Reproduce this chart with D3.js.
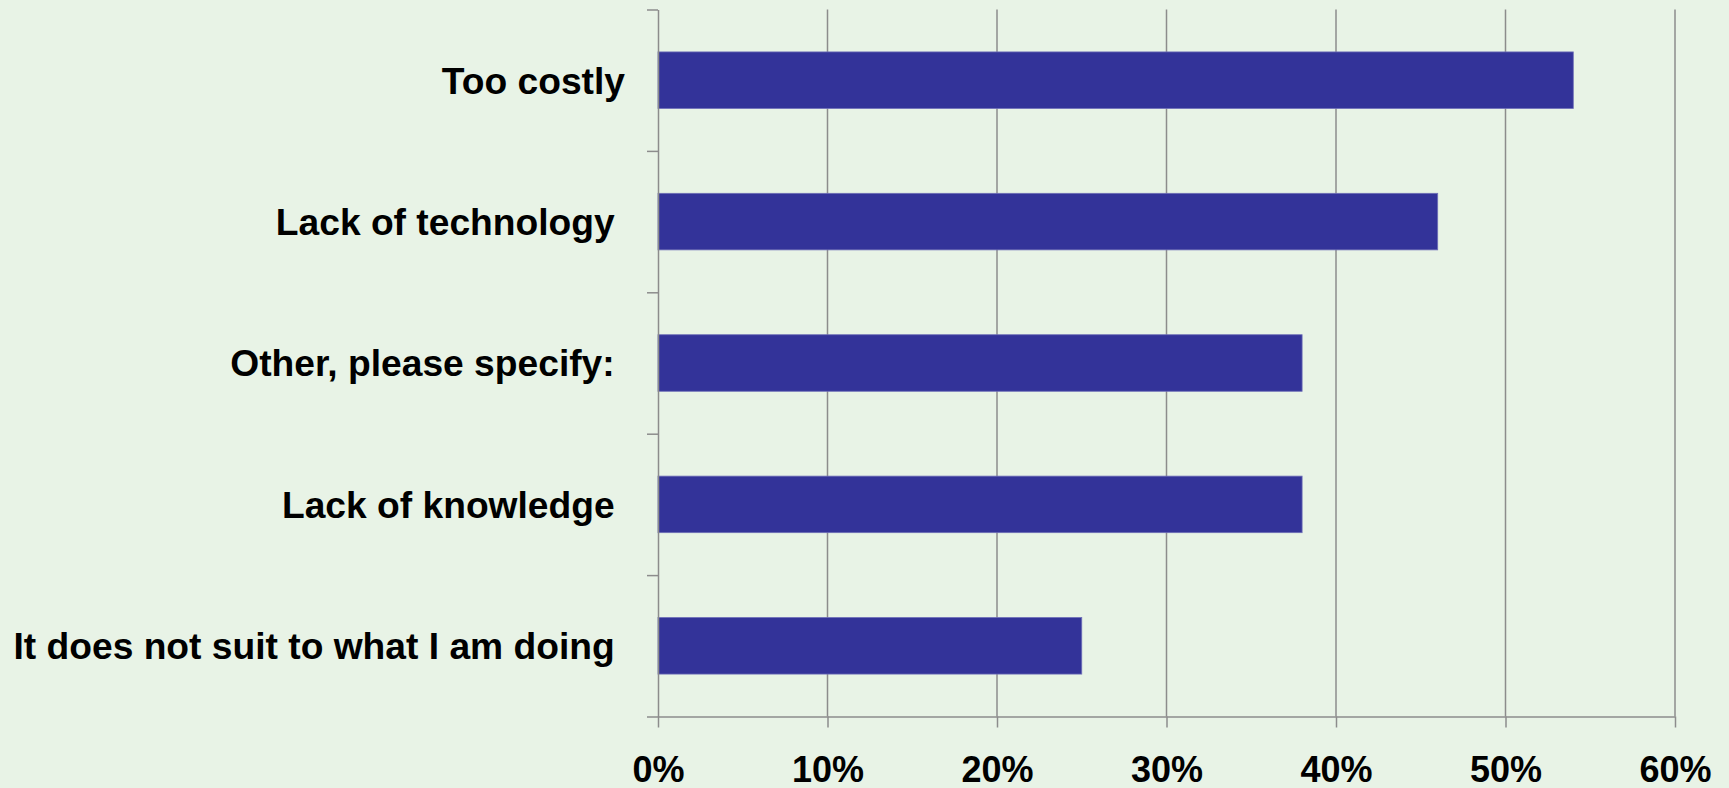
<!DOCTYPE html>
<html>
<head>
<meta charset="utf-8">
<script src="https://cdn.jsdelivr.net/npm/d3@7"></script>
<style>
    html, body { margin: 0; padding: 0; background: #e8f3e6; }
    svg { display: block; }
    .lbl text { white-space: pre; }
</style>
</head>
<body>
<div id="chart"></div>
<script>
(function(){
    // data (top to bottom)
    var categories = ['Too costly', 'Lack of technology ', 'Other, please specify: ', 'Lack of knowledge ', 'It does not suit to what I am doing '];
    var values     = [0.54, 0.46, 0.38, 0.38, 0.25];
    var xTicks     = [0, 0.1, 0.2, 0.3, 0.4, 0.5, 0.6];

    var WIDTH         = 1729,
        HEIGHT        = 788,
        MARGIN_LEFT   = 658,
        MARGIN_RIGHT  = 54,
        MARGIN_TOP    = 9.5,
        MARGIN_BOTTOM = 71.5,
        PLOT_W        = WIDTH - MARGIN_LEFT - MARGIN_RIGHT,
        PLOT_H        = HEIGHT - MARGIN_TOP - MARGIN_BOTTOM,
        FONT          = '"Liberation Sans", Arial, sans-serif',
        GRID_COLOR    = '#8c8c8c',
        BAR_COLOR     = '#333399';

    var svg = d3.select('#chart').append('svg')
        .attr('width', WIDTH)
        .attr('height', HEIGHT);

    svg.append('rect').attr('width', WIDTH).attr('height', HEIGHT).attr('fill', '#e8f3e6');

    var g = svg.append('g')
        .attr('transform', 'translate(' + MARGIN_LEFT + ',' + MARGIN_TOP + ')');

    var x = d3.scaleLinear().domain([0, 0.6]).range([0, PLOT_W]);
    var y = d3.scaleBand().domain(categories).range([0, PLOT_H])
        .paddingInner(0.6).paddingOuter(0.3);
    // band boundaries for the tick marks on the category axis
    var yEdge = d3.scaleLinear().domain([0, categories.length]).range([0, PLOT_H]);

    // vertical gridlines
    g.append('g').selectAll('line')
        .data(xTicks.slice(1))
        .enter().append('line')
        .attr('x1', function(d){ return x(d); })
        .attr('x2', function(d){ return x(d); })
        .attr('y1', 0)
        .attr('y2', PLOT_H)
        .attr('stroke', GRID_COLOR)
        .attr('stroke-width', 1.5);

    // bars
    g.append('g').selectAll('rect')
        .data(values)
        .enter().append('rect')
        .attr('x', 0)
        .attr('y', function(d, i){ return y(categories[i]); })
        .attr('width', function(d){ return x(d); })
        .attr('height', y.bandwidth())
        .attr('fill', BAR_COLOR)
        .attr('stroke', '#6f6fb8')
        .attr('stroke-width', 0.8);

    // x axis
    var xAxis = g.append('g')
        .attr('transform', 'translate(0,' + PLOT_H + ')')
        .call(d3.axisBottom(x).tickValues(xTicks).tickFormat(d3.format('.0%'))
            .tickSize(11).tickSizeOuter(0).tickPadding(29));

    // y axis line + boundary ticks
    var yAxis = g.append('g')
        .call(d3.axisLeft(yEdge).ticks(categories.length).tickFormat('')
            .tickSize(11).tickSizeOuter(0));

    [xAxis, yAxis].forEach(function(a){
        a.select('.domain').attr('stroke', GRID_COLOR).attr('stroke-width', 1.5);
        a.selectAll('.tick line').attr('stroke', GRID_COLOR).attr('stroke-width', 1.5);
    });

    xAxis.selectAll('text')
        .attr('fill', '#000')
        .style('font-family', FONT)
        .style('font-size', '36px')
        .style('font-weight', 'bold');

    // category labels
    var lbl = g.append('g')
        .attr('class', 'lbl')
        .call(d3.axisLeft(y).tickSize(0).tickPadding(33));
    lbl.select('.domain').remove();
    lbl.selectAll('text')
        .attr('fill', '#000')
        .attr('dy', '0.36em')
        .style('font-family', FONT)
        .style('font-size', '37.2px')
        .style('font-weight', 'bold');
})();
</script>
</body>
</html>
